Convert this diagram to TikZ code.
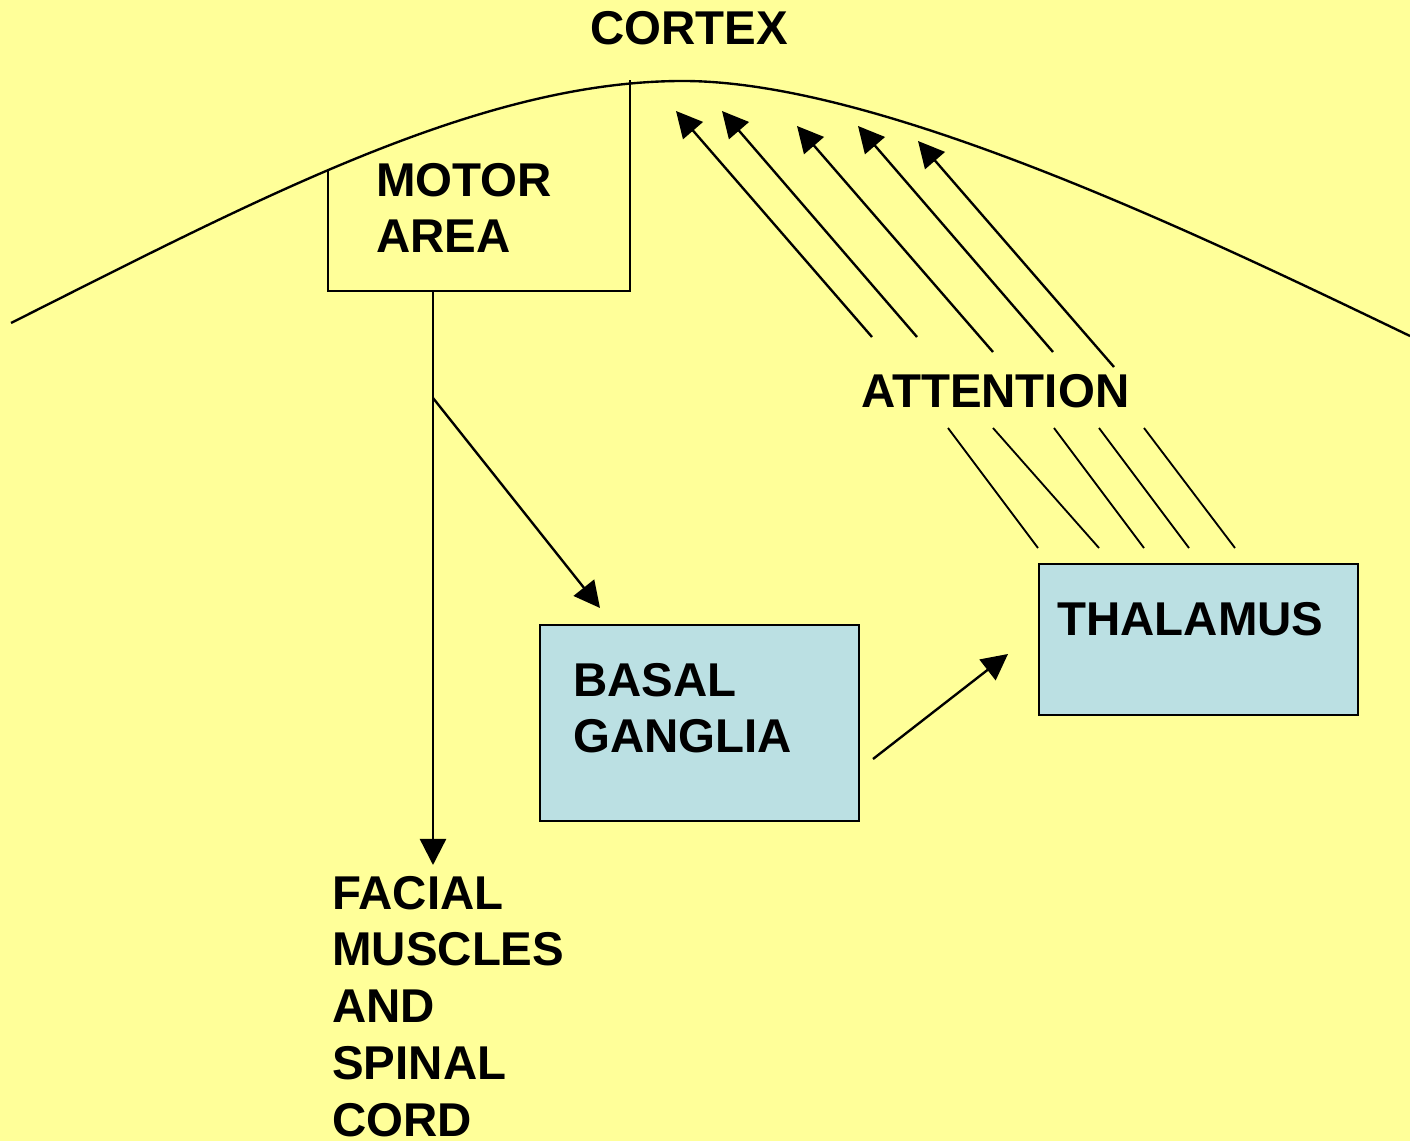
\documentclass[tikz,border=0pt]{standalone}
\usepackage{fontspec}
\setmainfont{Liberation Sans}
\usetikzlibrary{arrows.meta}

\definecolor{paper}{HTML}{FFFF99}
\definecolor{boxblue}{HTML}{BBE0E3}

\tikzset{
  txt/.style={font=\fontsize{27}{32.3}\selectfont\bfseries, inner sep=0pt, anchor=base west, align=left},
  arr/.style={line width=1.35pt, -{Triangle[length=14.8pt, width=14.8pt]}},
  edge/.style={line width=1.35pt},
  thinedge/.style={line width=1.05pt},
  area/.style={draw, line width=1.3pt, fill=boxblue, inner sep=0pt, anchor=north west}
}

\begin{document}
\begin{tikzpicture}[x=0.02cm, y=-0.02cm]
\fill[paper] (0,0) rectangle (1410,1141);
\useasboundingbox (0,0) rectangle (1410,1141);

% cortex surface
\coordinate (left) at (11,323);
\coordinate (top) at (683,81);
\coordinate (right) at (1410,336);
\draw[edge] (left) .. controls (260,198) and (480,81) .. (top)
  .. controls (880,81) and (1200,235) .. (right);
\node[txt] (cortex) at (590,45) {CORTEX};

% motor area
\coordinate (ma1) at (328,171);
\coordinate (ma2) at (328,291);
\coordinate (ma3) at (630,291);
\coordinate (ma4) at (630,80);
\draw[edge] (ma1) -- (ma2) -- (ma3) -- (ma4);
\node[txt] (motor) at (376,253) {MOTOR\\AREA};

% boxes
\node[area, minimum width=6.38cm, minimum height=3.92cm] (basal) at (539,624) {};
\node[txt] (basaltxt) at (573,753) {BASAL\\GANGLIA};
\node[area, minimum width=6.38cm, minimum height=3.02cm] (thal) at (1038,563) {};
\node[txt] (thaltxt) at (1057,636) {THALAMUS};

% output
\coordinate (down) at (433,291);
\coordinate (branch) at (433,398);
\node[txt] (facial) at (332,1136) {FACIAL\\MUSCLES\\AND\\SPINAL\\CORD};
\coordinate (facialtip) at (433,865);
\draw[arr] (down) -- (facialtip);
\coordinate (basaltip) at (600,608);
\draw[arr] (branch) -- (basaltip);
\coordinate (bgout) at (873,759);
\coordinate (thalin) at (1008,654);
\draw[arr] (bgout) -- (thalin);

% attention
\node[txt] (attn) at (861,408) {ATTENTION};
\foreach \i/\ax/\ay/\bx/\by in {1/948/428/1038/548, 2/993/428/1099/548, 3/1054/428/1144/548, 4/1099/428/1189/548, 5/1144/428/1235/548}
  \draw[thinedge] (\ax,\ay) coordinate (lo\i) -- (\bx,\by) coordinate (lob\i);
\foreach \i/\ax/\ay/\bx/\by in {1/872/337/676/111, 2/917/337/722/111, 3/993/352/797/126, 4/1053/352/858/126, 5/1114/367/918/141}
  \draw[arr] (\ax,\ay) coordinate (up\i) -- (\bx,\by) coordinate (tip\i);
\end{tikzpicture}
\end{document}
